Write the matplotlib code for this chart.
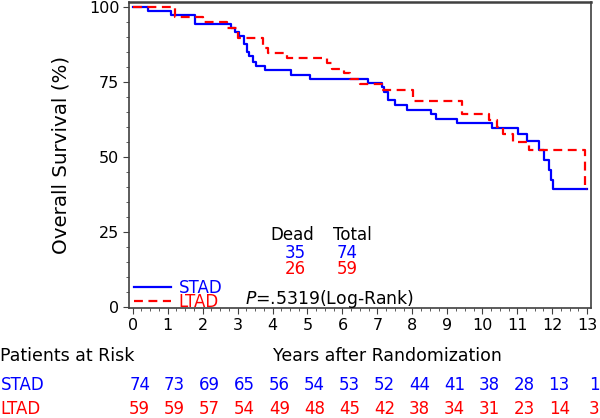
import matplotlib
matplotlib.use("Agg")
import matplotlib.pyplot as plt
import matplotlib.transforms as mtransforms
from matplotlib.ticker import MultipleLocator

plt.rcParams['font.family'] = ['DejaVu Sans']
plt.rcParams['mathtext.fontset'] = 'dejavusans'

# ---- data ----
stad_t = [0, 0.45, 1.09, 1.78, 2.82, 2.92, 3.05, 3.18, 3.27, 3.34, 3.43, 3.53, 3.79,
          4.52, 5.07, 6.74, 7.12, 7.2, 7.31, 7.51, 7.84, 8.52, 8.67, 9.27, 10.28,
          11.01, 11.27, 11.63, 11.77, 11.91, 11.97, 12.03, 13.0]
stad_s = [100, 98.6, 97.3, 94.4, 93.0, 91.7, 90.3, 87.6, 85.1, 83.7, 81.8, 80.3, 79.0,
          77.5, 76.1, 74.7, 73.2, 71.8, 68.9, 67.3, 65.8, 64.2, 62.8, 61.2, 59.6,
          57.7, 55.2, 52.3, 49.0, 45.7, 42.5, 39.2, 39.2]

ltad_t = [0, 1.22, 2.02, 2.69, 3.0, 3.74, 3.87, 4.42, 5.55, 5.71, 6.03, 6.22, 6.5,
          7.12, 8.03, 9.43, 10.2, 10.41, 10.6, 10.89, 11.35, 12.94, 13.0]
ltad_s = [100, 96.6, 94.9, 93.1, 89.8, 86.4, 84.7, 83.0, 81.2, 79.3, 77.9, 76.0, 74.3,
          72.3, 68.7, 64.3, 62.3, 60.1, 57.7, 55.1, 52.3, 39.2, 39.2]

years = list(range(0, 14))
stad_risk = [74, 73, 69, 65, 56, 54, 53, 52, 44, 41, 38, 28, 13, 1]
ltad_risk = [59, 59, 57, 54, 49, 48, 45, 42, 38, 34, 31, 23, 14, 3]

stad_dead, stad_total = 35, 74
ltad_dead, ltad_total = 26, 59
p_value = ".5319"

BLUE = '#0000FF'
RED = '#FF0000'
SPINE = '#404040'

W, H = 600, 418
fig = plt.figure(figsize=(6.0, 4.18), dpi=100)
ax = fig.add_axes([129 / W, 1 - 308 / H, 462 / W, 306 / H])

ax.step(stad_t, stad_s, where='post', color=BLUE, lw=1.6, label='STAD')
ax.step(ltad_t, ltad_s, where='post', color=RED, lw=1.6, ls=(0, (4, 2.5)), label='LTAD')

ax.set_xlim(-0.106, 13.11)
ax.set_ylim(-0.33, 101.7)
ax.set_xticks(years)
ax.set_xticklabels([str(y) for y in years])
ax.set_yticks([0, 25, 50, 75, 100])
ax.xaxis.set_minor_locator(MultipleLocator(0.25))
ax.yaxis.set_minor_locator(MultipleLocator(5))
ax.tick_params(axis='both', which='major', length=4, width=0.8, color=SPINE,
               labelsize=11.5, pad=3)
ax.tick_params(axis='both', which='minor', length=2, width=0.6, color=SPINE)
for s in ax.spines.values():
    s.set_color(SPINE)
    s.set_linewidth(1.2)
ax.spines['top'].set_linewidth(1.8)

ax.set_ylabel('Overall Survival (%)', fontsize=14.3, labelpad=13)

# legend
leg = ax.legend(loc='lower left', frameon=False, fontsize=12, handlelength=2.2,
                handletextpad=0.45, labelspacing=-0.28, borderaxespad=0.0,
                bbox_to_anchor=(-0.003, -0.03))
for txt, c in zip(leg.get_texts(), [BLUE, RED]):
    txt.set_color(c)

# Dead/Total table
def axfrac(px, py):
    return ((px - 129) / 462, (308 - py) / 306)

ax.text(*axfrac(292, 235), 'Dead', transform=ax.transAxes, ha='center', va='center', fontsize=12)
ax.text(*axfrac(352.5, 235), 'Total', transform=ax.transAxes, ha='center', va='center', fontsize=12)
ax.text(*axfrac(295.5, 253), str(stad_dead), transform=ax.transAxes, ha='center', va='center', fontsize=12, color=BLUE)
ax.text(*axfrac(347, 253), str(stad_total), transform=ax.transAxes, ha='center', va='center', fontsize=12, color=BLUE)
ax.text(*axfrac(295.5, 269.5), str(ltad_dead), transform=ax.transAxes, ha='center', va='center', fontsize=12, color=RED)
ax.text(*axfrac(347, 269.5), str(ltad_total), transform=ax.transAxes, ha='center', va='center', fontsize=12, color=RED)
ax.text(*axfrac(245, 299), r'$\it{P}$=' + p_value + '(Log-Rank)', transform=ax.transAxes,
        ha='left', va='center', fontsize=12.4)

# Patients at risk
fig.text(0.5 / W, 1 - 356 / H, 'Patients at Risk', ha='left', va='center', fontsize=12.5)
fig.text(387 / W, 1 - 356 / H, 'Years after Randomization', ha='center', va='center', fontsize=12.5)
fig.text(0.5 / W, 1 - 385 / H, 'STAD', ha='left', va='center', fontsize=12, color=BLUE)
fig.text(0.5 / W, 1 - 409 / H, 'LTAD', ha='left', va='center', fontsize=12, color=RED)

off = mtransforms.ScaledTranslation(7 / 100, 0, fig.dpi_scale_trans)
blend = mtransforms.blended_transform_factory(ax.transData, fig.transFigure) + off
for yv, a, b in zip(years, stad_risk, ltad_risk):
    fig.text(yv, 1 - 385 / H, str(a), transform=blend, ha='center', va='center', fontsize=12, color=BLUE)
    fig.text(yv, 1 - 409 / H, str(b), transform=blend, ha='center', va='center', fontsize=12, color=RED)

fig.savefig('out.png', dpi=100)
